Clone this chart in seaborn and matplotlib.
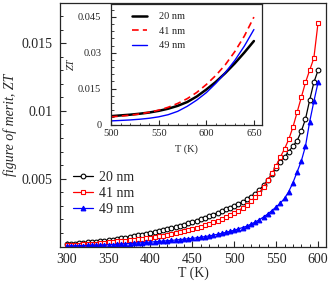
import numpy as np
import pandas as pd
import matplotlib
matplotlib.use('Agg')
import matplotlib.pyplot as plt
import seaborn as sns
from matplotlib.ticker import MultipleLocator, FixedLocator, FuncFormatter

# temperaturas do grafico principal (K), passo de 5 K
temp_main = list(range(300, 605, 5))

# ZT - 20 nm
zt_20 = [0.00015, 0.00018, 0.00021, 0.00024, 0.00027, 0.00030, 0.00033, 0.00036, 0.00039, 0.00042, 0.00045,
         0.00050, 0.00055, 0.00060, 0.00065, 0.00070, 0.00076, 0.00082, 0.00088, 0.00094, 0.00100,
         0.00107, 0.00114, 0.00121, 0.00128, 0.00136, 0.00144, 0.00152, 0.00161, 0.00170, 0.00180,
         0.00190, 0.00201, 0.00212, 0.00224, 0.00236, 0.00248, 0.00261, 0.00274, 0.00287, 0.00300,
         0.00315, 0.00330, 0.00348, 0.00368, 0.00390, 0.00418, 0.00452, 0.00490, 0.00535, 0.00580,
         0.00620, 0.00660, 0.00700, 0.00740, 0.00780, 0.00850, 0.00940, 0.01080, 0.01210, 0.01300]

# ZT - 41 nm
zt_41 = [0.00008, 0.00010, 0.00012, 0.00014, 0.00016, 0.00018, 0.00020, 0.00022, 0.00025, 0.00028, 0.00031,
         0.00034, 0.00037, 0.00040, 0.00043, 0.00046, 0.00050, 0.00054, 0.00058, 0.00062, 0.00066,
         0.00070, 0.00075, 0.00080, 0.00086, 0.00092, 0.00098, 0.00105, 0.00112, 0.00120, 0.00128,
         0.00137, 0.00146, 0.00156, 0.00167, 0.00178, 0.00190, 0.00203, 0.00217, 0.00232, 0.00248,
         0.00265, 0.00285, 0.00307, 0.00333, 0.00363, 0.00398, 0.00440, 0.00488, 0.00540, 0.00597,
         0.00660, 0.00720, 0.00790, 0.00880, 0.00990, 0.01100, 0.01210, 0.01300, 0.01390, 0.01650]

# ZT - 49 nm
zt_49 = [0.00003, 0.00004, 0.00005, 0.00006, 0.00007, 0.00008, 0.00009, 0.00010, 0.00011, 0.00012, 0.00013,
         0.00014, 0.00016, 0.00018, 0.00020, 0.00022, 0.00024, 0.00026, 0.00028, 0.00030, 0.00033,
         0.00035, 0.00037, 0.00040, 0.00042, 0.00045, 0.00048, 0.00051, 0.00054, 0.00057, 0.00060,
         0.00064, 0.00068, 0.00073, 0.00078, 0.00084, 0.00090, 0.00097, 0.00104, 0.00112, 0.00120,
         0.00130, 0.00140, 0.00150, 0.00165, 0.00180, 0.00198, 0.00218, 0.00240, 0.00265, 0.00292,
         0.00320, 0.00355, 0.00405, 0.00470, 0.00550, 0.00630, 0.00740, 0.00920, 0.01070, 0.01210]

# grafico interno (inset), passo de 10 K
temp_inset = list(range(500, 660, 10))
zt_20_in = [0.0035, 0.0038, 0.0041, 0.0045, 0.0050, 0.0057, 0.0066, 0.0078,
            0.0094, 0.0117, 0.0146, 0.0178, 0.0215, 0.0256, 0.0301, 0.0349]
zt_41_in = [0.0032, 0.0035, 0.0039, 0.0044, 0.0051, 0.0060, 0.0072, 0.0088,
            0.0108, 0.0134, 0.0167, 0.0205, 0.0250, 0.0305, 0.0370, 0.0449]
zt_49_in = [0.0015, 0.0017, 0.0019, 0.0022, 0.0026, 0.0032, 0.0041, 0.0055,
            0.0076, 0.0102, 0.0133, 0.0172, 0.0217, 0.0268, 0.0328, 0.0397]

rotulos = ['20 nm', '41 nm', '49 nm']

sns.set_style('ticks')
plt.rcParams['font.family'] = ['Liberation Serif', 'DejaVu Serif']

fig = plt.figure(figsize=(3.32, 2.85), dpi=100)
ax = fig.add_axes([60/332, 1-246.5/285, (326-60)/332, (246.5-2.5)/285])

df_main = pd.DataFrame({'T': temp_main, '20 nm': zt_20, '41 nm': zt_41, '49 nm': zt_49})
estilos = {'20 nm': ('black', 'o', 'white'),
           '41 nm': ('red', 's', 'white'),
           '49 nm': ('blue', '^', 'blue')}
for nome in rotulos:
    cor, mk, face = estilos[nome]
    sns.lineplot(data=df_main, x='T', y=nome, ax=ax, color=cor, marker=mk,
                 markersize=3.4, markerfacecolor=face, markeredgecolor=cor,
                 markeredgewidth=0.8, linewidth=0.9, label=nome, sort=False)

ax.set_xlim(292, 609.5)
ax.set_ylim(0, 0.018)
ax.xaxis.set_major_locator(MultipleLocator(50))
ax.xaxis.set_minor_locator(MultipleLocator(10))
ax.yaxis.set_major_locator(FixedLocator([0.005, 0.01, 0.015]))
ax.yaxis.set_minor_locator(MultipleLocator(0.001))
ax.yaxis.set_major_formatter(FuncFormatter(lambda v, p: '%g' % round(v, 4)))
ax.tick_params(which='major', direction='in', length=4.5, width=0.8, labelsize=10,
               top=False, right=False)
ax.tick_params(axis='x', which='major', pad=5)
ax.tick_params(axis='y', which='major', pad=5.5)
ax.tick_params(which='minor', direction='in', length=2.2, width=0.7, top=False, right=False)
for s in ax.spines.values():
    s.set_linewidth(0.9)
ax.set_xlabel('T (K)', fontsize=10, labelpad=0)
ax.set_ylabel('figure of merit, ZT', fontsize=10, fontstyle='italic', labelpad=3)
ax.legend(loc='upper left', bbox_to_anchor=(73/332, 1-171/285), bbox_transform=fig.transFigure,
          frameon=False, fontsize=10, handlelength=1.45, handletextpad=0.45,
          labelspacing=0.22, borderpad=0, borderaxespad=0)

# inset
axi = fig.add_axes([111/332, 1-124.5/285, (262-111)/332, (124.5-3.7)/285])
df_in = pd.DataFrame({'T': temp_inset, '20 nm': zt_20_in, '41 nm': zt_41_in, '49 nm': zt_49_in})
sns.lineplot(data=df_in, x='T', y='20 nm', ax=axi, color='black', linewidth=1.8, label='20 nm')
sns.lineplot(data=df_in, x='T', y='41 nm', ax=axi, color='red', linewidth=1.2,
             linestyle=(0, (4, 2.5)), label='41 nm')
sns.lineplot(data=df_in, x='T', y='49 nm', ax=axi, color='blue', linewidth=1.0, label='49 nm')
axi.set_xlim(500, 658.5)
axi.set_ylim(0, 0.0505)
axi.xaxis.set_major_locator(MultipleLocator(50))
axi.xaxis.set_minor_locator(MultipleLocator(10))
axi.yaxis.set_major_locator(MultipleLocator(0.015))
axi.yaxis.set_minor_locator(MultipleLocator(0.003))
axi.yaxis.set_major_formatter(FuncFormatter(lambda v, p: '%g' % round(v, 4)))
axi.tick_params(which='major', direction='in', length=3.5, width=0.8, labelsize=7.5)
axi.tick_params(axis='x', which='major', pad=3.5)
axi.tick_params(axis='y', which='major', pad=7)
axi.tick_params(which='minor', direction='in', length=1.8, width=0.6)
for s in axi.spines.values():
    s.set_linewidth(0.9)
axi.set_xlabel('T (K)', fontsize=7.5, labelpad=4)
axi.set_ylabel('ZT', fontsize=7.5, fontstyle='italic', labelpad=1.5)
axi.legend(loc='upper left', bbox_to_anchor=(132/332, 1-12/285), bbox_transform=fig.transFigure,
           frameon=False, fontsize=7.5, handlelength=1.4, handletextpad=1.2,
           labelspacing=0.5, borderpad=0, borderaxespad=0)

plt.savefig('out.png', dpi=100)
